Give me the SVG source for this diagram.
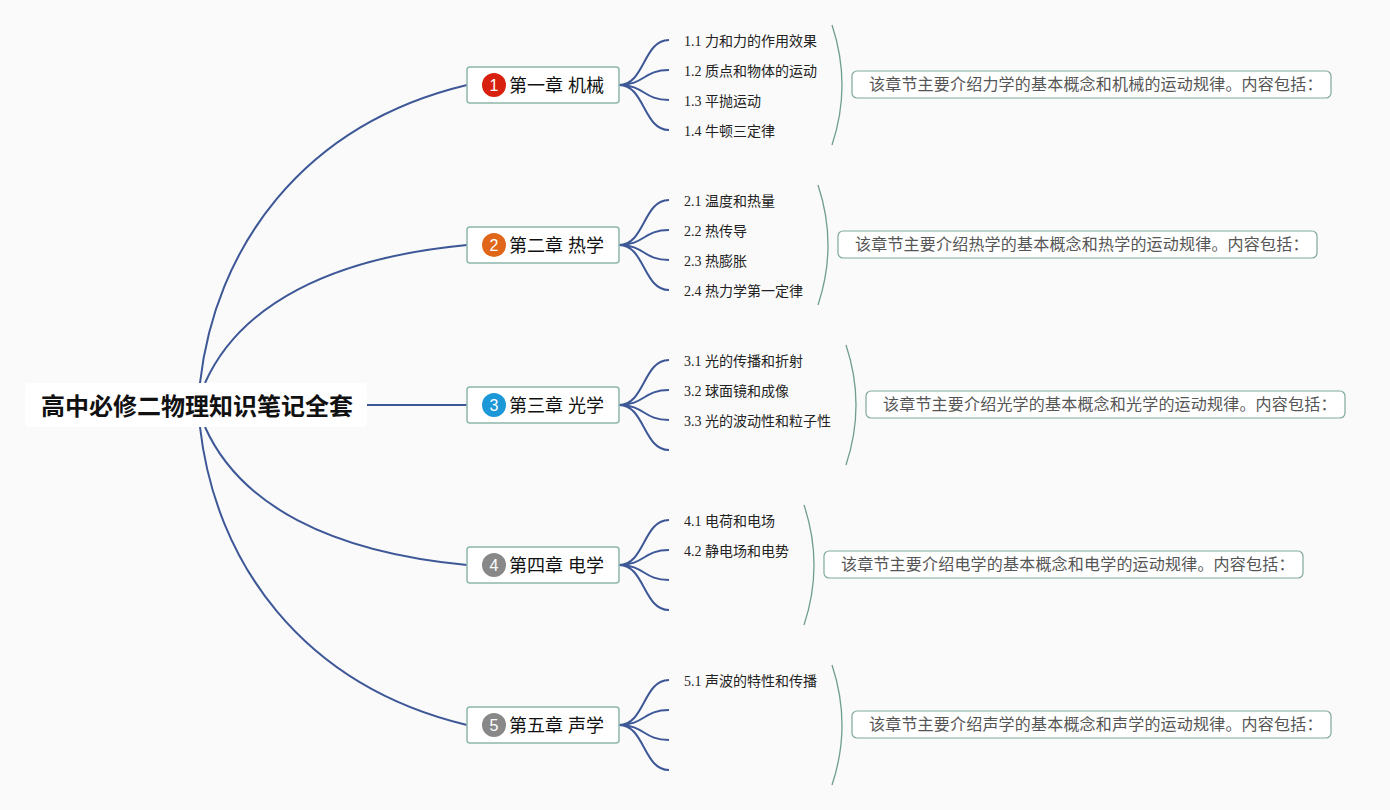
<svg xmlns="http://www.w3.org/2000/svg" width="1390" height="810" viewBox="0 0 1390 810">
<style>
.bg{fill:#fafafa}
.ln{fill:none;stroke:#3d5797;stroke-width:2}
.br{fill:none;stroke:#6f9d8e;stroke-width:1.3}
.ch{fill:#fff;stroke:#8db7ab;stroke-width:1.5}
.sm{fill:#fff;stroke:#7fa99c;stroke-width:1.2}
.ct{font-family:"Liberation Sans","Noto Sans CJK SC",sans-serif;font-size:18px;fill:#111}
.bn{font-family:"Liberation Sans","Noto Sans CJK SC",sans-serif;font-size:16px;fill:#fff;text-anchor:middle}
.st{font-family:"Liberation Serif","Noto Sans CJK SC",serif;font-size:14px;fill:#222}
.tx{font-family:"Noto Sans CJK SC",sans-serif;font-size:16px;fill:#555;letter-spacing:0.2px}
.rt{font-family:"Noto Sans CJK SC",sans-serif;font-size:24px;font-weight:bold;fill:#111}
</style>
<rect class="bg" x="0" y="0" width="1390" height="810"/>
<g id="connectors">
<path class="ln" d="M367,405 L467,405"/>
<path class="ln" d="M200,383 C215,250 300,125 467,85"/>
<path class="ln" d="M205,383 C240,305 330,258 467,245"/>
<path class="ln" d="M205,427 C240,505 330,552 467,565"/>
<path class="ln" d="M200,427 C215,560 300,685 467,725"/>
<path class="ln" d="M619,85 C645,85 643,40 669,40 M619,85 C645,85 643,70 669,70 M619,85 C645,85 643,100 669,100 M619,85 C645,85 643,130 669,130"/>
<path class="ln" d="M619,245 C645,245 643,200 669,200 M619,245 C645,245 643,230 669,230 M619,245 C645,245 643,260 669,260 M619,245 C645,245 643,290 669,290"/>
<path class="ln" d="M619,405 C645,405 643,360 669,360 M619,405 C645,405 643,390 669,390 M619,405 C645,405 643,420 669,420 M619,405 C645,405 643,450 669,450"/>
<path class="ln" d="M619,565 C645,565 643,520 669,520 M619,565 C645,565 643,550 669,550 M619,565 C645,565 643,580 669,580 M619,565 C645,565 643,610 669,610"/>
<path class="ln" d="M619,725 C645,725 643,680 669,680 M619,725 C645,725 643,710 669,710 M619,725 C645,725 643,740 669,740 M619,725 C645,725 643,770 669,770"/>
<path class="br" d="M832,25 Q852,85 832,145"/>
<path class="br" d="M818,185 Q838,245 818,305"/>
<path class="br" d="M846,345 Q866,405 846,465"/>
<path class="br" d="M804,505 Q824,565 804,625"/>
<path class="br" d="M832,665 Q852,725 832,785"/>
</g>
<g id="root">
<rect x="25" y="383" width="342" height="44" rx="4" fill="#fff"/>
<text class="rt" x="41" y="415">高中必修二物理知识笔记全套</text>
</g>
<g id="ch1">
<rect class="ch" x="467" y="67" width="152" height="36" rx="3"/>
<circle cx="494" cy="85" r="12" fill="#d8200e"/>
<text class="bn" x="494" y="91">1</text>
<text class="ct" x="509" y="92">第一章 机械</text>
</g>
<g id="ch2">
<rect class="ch" x="467" y="227" width="152" height="36" rx="3"/>
<circle cx="494" cy="245" r="12" fill="#e0661a"/>
<text class="bn" x="494" y="251">2</text>
<text class="ct" x="509" y="252">第二章 热学</text>
</g>
<g id="ch3">
<rect class="ch" x="467" y="387" width="152" height="36" rx="3"/>
<circle cx="494" cy="405" r="12" fill="#1c98d8"/>
<text class="bn" x="494" y="411">3</text>
<text class="ct" x="509" y="412">第三章 光学</text>
</g>
<g id="ch4">
<rect class="ch" x="467" y="547" width="152" height="36" rx="3"/>
<circle cx="494" cy="565" r="12" fill="#888"/>
<text class="bn" x="494" y="571">4</text>
<text class="ct" x="509" y="572">第四章 电学</text>
</g>
<g id="ch5">
<rect class="ch" x="467" y="707" width="152" height="36" rx="3"/>
<circle cx="494" cy="725" r="12" fill="#888"/>
<text class="bn" x="494" y="731">5</text>
<text class="ct" x="509" y="732">第五章 声学</text>
</g>
<g id="sub1">
<text class="st" x="684" y="46">1.1 力和力的作用效果</text>
<text class="st" x="684" y="76">1.2 质点和物体的运动</text>
<text class="st" x="684" y="106">1.3 平抛运动</text>
<text class="st" x="684" y="136">1.4 牛顿三定律</text>
</g>
<g id="sub2">
<text class="st" x="684" y="206">2.1 温度和热量</text>
<text class="st" x="684" y="236">2.2 热传导</text>
<text class="st" x="684" y="266">2.3 热膨胀</text>
<text class="st" x="684" y="296">2.4 热力学第一定律</text>
</g>
<g id="sub3">
<text class="st" x="684" y="366">3.1 光的传播和折射</text>
<text class="st" x="684" y="396">3.2 球面镜和成像</text>
<text class="st" x="684" y="426">3.3 光的波动性和粒子性</text>
</g>
<g id="sub4">
<text class="st" x="684" y="526">4.1 电荷和电场</text>
<text class="st" x="684" y="556">4.2 静电场和电势</text>
</g>
<g id="sub5">
<text class="st" x="684" y="686">5.1 声波的特性和传播</text>
</g>
<g id="sum1">
<rect class="sm" x="852" y="71" width="479" height="27" rx="5"/>
<text class="tx" x="869" y="90">该章节主要介绍力学的基本概念和机械的运动规律。内容包括：</text>
</g>
<g id="sum2">
<rect class="sm" x="838" y="231" width="479" height="27" rx="5"/>
<text class="tx" x="855" y="250">该章节主要介绍热学的基本概念和热学的运动规律。内容包括：</text>
</g>
<g id="sum3">
<rect class="sm" x="866" y="391" width="479" height="27" rx="5"/>
<text class="tx" x="883" y="410">该章节主要介绍光学的基本概念和光学的运动规律。内容包括：</text>
</g>
<g id="sum4">
<rect class="sm" x="824" y="551" width="479" height="27" rx="5"/>
<text class="tx" x="841" y="570">该章节主要介绍电学的基本概念和电学的运动规律。内容包括：</text>
</g>
<g id="sum5">
<rect class="sm" x="852" y="711" width="479" height="27" rx="5"/>
<text class="tx" x="869" y="730">该章节主要介绍声学的基本概念和声学的运动规律。内容包括：</text>
</g>
</svg>
